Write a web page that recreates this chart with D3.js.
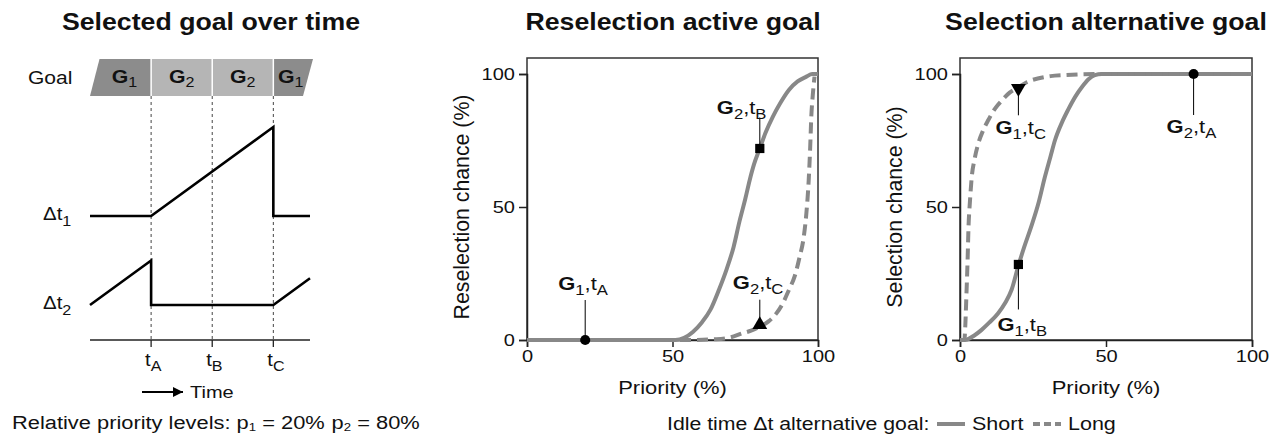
<!DOCTYPE html>
<html><head><meta charset="utf-8">
<script src="https://cdn.jsdelivr.net/npm/d3@7"></script>
<style>
body{margin:0;background:#fff;}
svg{display:block;font-family:"Liberation Sans",Arial,sans-serif;}
</style></head>
<body><svg id="c" width="1286" height="438"></svg>
<script>
// ---------- DATA ----------
const titles = ["Selected goal over time", "Reselection active goal", "Selection alternative goal"];
const timeTicks = [{t:1, sub:"A"}, {t:2, sub:"B"}, {t:3, sub:"C"}];
const goalSegments = [{g:1, from:0, to:1}, {g:2, from:1, to:2}, {g:2, from:2, to:3}, {g:1, from:3, to:3.6}];
const idle1 = [[0,0],[1,0],[3,2],[3,0],[3.6,0]];
const idle2 = [[0,0],[1,1],[1,0],[3,0],[3.6,0.6]];
const priorityTicks = [0, 50, 100];
const chanceTicks = [0, 50, 100];
// Reselection active goal (priority %, chance %)
const reselShort = [[0,0],[51,0],[54,0.8],[57,3],[60,6.5],[63,11.3],[66,19],[68.5,26.3],[71,35],[73,44.5],[75,53],[76.5,60],[78,66],[80,72],[82,78],[84.5,84],[87,89],[90,94],[93,97.2],[96,99],[98,100],[100,100]];
const reselLong = [[0,0],[55,0],[65,0.3],[70,1],[74,2.5],[77,3.5],[80,5],[83,7],[85.7,10],[88,14],[90,18.8],[92,24],[93.7,31.3],[95,38],[96,47.6],[96.8,60],[97.3,72],[97.7,84],[98.2,92],[98.8,99]];
// Selection alternative goal
const selShort = [[0,0],[2,0.1],[5,1.8],[7.4,3.8],[10,6.5],[13,10],[15.5,14],[17.7,19],[20,28],[22,35],[24.5,43],[27,52],[29,61],[31,69],[32.5,75],[35,82],[37,86.5],[39.5,91.5],[41.7,95],[44,98],[46.2,99.6],[48.5,100],[100,100]];
const selLong = [[0,0],[1.5,0],[1.8,5],[2.2,17],[2.6,30],[2.9,42],[3.4,52],[4,61],[5,68],[6.3,74],[8,79],[9.7,82.7],[12,87],[14.3,90],[17,93],[20,95],[23,97],[27,98.4],[31,99.2],[36,99.6],[42,99.9],[47,100],[100,100]];
// Annotated points
const reselPoints = [{key:"G1tA", p:20, v:0, sym:"circle", g:"1", t:"A"}, {key:"G2tB", p:80, v:72, sym:"square", g:"2", t:"B"}, {key:"G2tC", p:80, v:5, sym:"triangle", g:"2", t:"C"}];
const selPoints = [{key:"G1tC", p:20, v:95, sym:"triangleDown", g:"1", t:"C"}, {key:"G2tA", p:80, v:100, sym:"circle", g:"2", t:"A"}, {key:"G1tB", p:20, v:28.4, sym:"square", g:"1", t:"B"}];
const legendItems = [{label:"Short", dash:null}, {label:"Long", dash:"7,4"}];

// ---------- LAYOUT (pixel offsets of annotation labels relative to their marker) ----------
const labelLayout = {
  resel: {G1tA:{dx:-27, dy:-50, lead:-40}, G2tB:{dx:-43, dy:-34, lead:-31}, G2tC:{dx:-27, dy:-38, lead:-27}},
  sel:   {G1tC:{dx:-23, dy:47, lead:28}, G2tA:{dx:-27, dy:59, lead:41}, G1tB:{dx:-21, dy:67, lead:45}}
};

// ---------- DRAW ----------
const svg = d3.select("#c");
const FONT = "Liberation Sans, Arial, sans-serif";
const SX = 1.15;           // horizontal text stretch seen in the reference
const curveGray = "#888888";

function T(parent, x, y, size, anchor, weight) {
  const g = parent.append("g").attr("transform", `translate(${x},${y}) scale(${SX},1)`);
  const t = g.append("text").attr("font-size", size).attr("text-anchor", anchor || "start").attr("fill", "#111");
  if (weight) t.attr("font-weight", weight);
  return t;
}

// Titles
const titleX = [211, 673, 1106];
titles.forEach((t,i)=> T(svg, titleX[i], 30, 23.2, "middle", "bold").text(t));

// ---- Left panel ----
const tx = d3.scaleLinear().domain([0,3.6]).range([90,310]);
const slope = 44.5;
const y1 = v => 216 - v*slope;
const y2 = v => 305 - v*slope;

// goal bar
const barTop = 59, barBot = 96, skew = 9.5;
const colorGoal = g => g===1 ? "#8c8c8c" : "#b5b5b5";
goalSegments.forEach((s,i)=>{
  const x0 = tx(s.from), x1 = tx(s.to);
  const first = i===0, last = i===goalSegments.length-1;
  const pts = [
    [first ? x0+skew : x0, barTop],
    [last ? x1+3 : x1, barTop],
    [last ? x1-7 : x1, barBot],
    [x0, barBot]
  ];
  svg.append("path").attr("d", d3.line()(pts)+"Z").attr("fill", colorGoal(s.g));
  const cx = first ? (x0+x1)/2+4 : (last ? (x0+x1)/2-1 : (x0+x1)/2);
  const tt = T(svg, cx, 83, 18.5, "middle");
  tt.append("tspan").attr("font-weight","bold").text("G");
  tt.append("tspan").attr("font-size",14).attr("dy",4).text(s.g);
});
goalSegments.slice(1).forEach(s=>{
  svg.append("line").attr("x1",tx(s.from)).attr("x2",tx(s.from)).attr("y1",barTop).attr("y2",barBot)
    .attr("stroke","#fff").attr("stroke-width",1.5);
});
T(svg, 28, 84, 18.3).text("Goal");

// dotted verticals
timeTicks.forEach(d=>{
  svg.append("line").attr("x1",tx(d.t)).attr("x2",tx(d.t)).attr("y1",barBot).attr("y2",340)
    .attr("stroke","#444").attr("stroke-width",1).attr("stroke-dasharray","3,3");
});
// time axis
svg.append("line").attr("x1",tx(0)).attr("x2",tx(3.6)).attr("y1",340).attr("y2",340).attr("stroke","#222").attr("stroke-width",1.3);
timeTicks.forEach(d=>{
  svg.append("line").attr("x1",tx(d.t)).attr("x2",tx(d.t)).attr("y1",340).attr("y2",347).attr("stroke","#222").attr("stroke-width",1.3);
  const tt = T(svg, tx(d.t)-6, 366, 17.5);
  tt.append("tspan").text("t");
  tt.append("tspan").attr("font-size",14).attr("dy",5).text(d.sub);
});
// idle time lines
const lx = d3.line().x(d=>tx(d[0]));
svg.append("path").attr("d", lx.y(d=>y1(d[1]))(idle1)).attr("fill","none").attr("stroke","#000").attr("stroke-width",2.6);
svg.append("path").attr("d", lx.y(d=>y2(d[1]))(idle2)).attr("fill","none").attr("stroke","#000").attr("stroke-width",2.6);
[[y1(0),"1"],[y2(0),"2"]].forEach(([yy,s])=>{
  const tt = T(svg, 43, yy+4, 17.8);
  tt.append("tspan").text("\u0394t");
  tt.append("tspan").attr("font-size",14).attr("dy",6).text(s);
});
// Time arrow
svg.append("defs").append("marker").attr("id","ah").attr("viewBox","0 0 10 10").attr("refX",10).attr("refY",5)
  .attr("markerWidth",5).attr("markerHeight",5).attr("markerUnits","strokeWidth").attr("orient","auto")
  .append("path").attr("d","M0,0L10,5L0,10Z").attr("fill","#000");
svg.append("line").attr("x1",142).attr("x2",183).attr("y1",392).attr("y2",392).attr("stroke","#000").attr("stroke-width",2).attr("marker-end","url(#ah)");
T(svg, 190, 398, 17.4).text("Time");
// relative priority
{
  const tt = T(svg, 12, 429, 19);
  tt.append("tspan").text("Relative priority levels: p");
  tt.append("tspan").attr("font-size",11.5).attr("dy",2).text("1");
  tt.append("tspan").attr("dy",-2).text(" = 20%");
  tt.append("tspan").attr("dx",6).text("p");
  tt.append("tspan").attr("font-size",11.5).attr("dy",2).text("2");
  tt.append("tspan").attr("dy",-2).text(" = 80%");
}

// ---- Right panels ----
function panel(x0, x1, yLabel, lines, points, layout) {
  const x = d3.scaleLinear().domain([0,100]).range([x0,x1]);
  const y = d3.scaleLinear().domain([0,100]).range([340,74]);
  const g = svg.append("g");
  g.append("rect").attr("x",x0).attr("y",58).attr("width",x1-x0).attr("height",340-58).attr("fill","none").attr("stroke","#333").attr("stroke-width",1.5);
  const ax = g.append("g").attr("transform",`translate(0,340)`).call(d3.axisBottom(x).tickValues(priorityTicks).tickSize(7).tickPadding(3));
  const ay = g.append("g").attr("transform",`translate(${x0},0)`).call(d3.axisLeft(y).tickValues(chanceTicks).tickSize(8).tickPadding(3));
  [ax,ay].forEach(a=>{
    a.select(".domain").attr("stroke","#222").attr("stroke-width",1.5);
    a.selectAll(".tick line").attr("stroke","#222").attr("stroke-width",1.5);
    a.selectAll("text").attr("font-size",17.4).attr("font-family",FONT).attr("fill","#111");
  });
  ax.selectAll(".tick text").attr("transform",`scale(${SX},1)`);
  ay.selectAll(".tick text").attr("x",0).attr("transform",`translate(-12,0) scale(${SX},1)`);
  T(g, (x0+x1)/2, 394, 19.1, "middle").text("Priority (%)");
  g.append("text").attr("transform",`translate(${x0-58},207) rotate(-90)`).attr("text-anchor","middle").attr("font-size",21.3).attr("fill","#111").text(yLabel);
  const line = d3.line().x(d=>x(d[0])).y(d=>y(d[1])).curve(d3.curveMonotoneX);
  lines.forEach(l=>{
    g.append("path").attr("d", line(l.data)).attr("fill","none").attr("stroke",curveGray).attr("stroke-width",4)
      .attr("stroke-dasharray", l.dash).attr("stroke-linecap","butt");
  });
  points.forEach(pt=>{
    const L = layout[pt.key];
    const px = x(pt.p), py = y(pt.v);
    g.append("line").attr("x1",px).attr("x2",px).attr("y1",py).attr("y2",py+L.lead).attr("stroke","#000").attr("stroke-width",1);
    let sym = d3.symbolCircle, rot = 0, size = 80, yoff = 0;
    if (pt.sym==="square") { sym = d3.symbolSquare; size = 85; }
    else if (pt.sym==="triangle") { sym = d3.symbolTriangle; size = 95; yoff = -2; }
    else if (pt.sym==="triangleDown") { sym = d3.symbolTriangle; rot = 180; size = 95; yoff = 1; }
    g.append("path").attr("d", d3.symbol().type(sym).size(size)()).attr("fill","#000")
      .attr("transform",`translate(${px},${py+yoff}) rotate(${rot})`);
    const tt = T(g, px+L.dx, py+L.dy, 19.1);
    tt.append("tspan").attr("font-weight","bold").text("G");
    tt.append("tspan").attr("font-size",14.5).attr("dy",5).text(pt.g);
    tt.append("tspan").attr("dy",-5).text(",t");
    tt.append("tspan").attr("font-size",14.5).attr("dy",5).text(pt.t);
  });
}
panel(527, 818, "Reselection chance (%)", [{data:reselShort, dash:null},{data:reselLong, dash:"11,6"}], reselPoints, labelLayout.resel);
panel(960, 1252, "Selection chance (%)", [{data:selShort, dash:null},{data:selLong, dash:"11,6"}], selPoints, labelLayout.sel);

// legend
{
  T(svg, 667, 430, 18.5).text("Idle time \u0394t alternative goal:");
  const xs = [937, 1033];
  legendItems.forEach((it,i)=>{
    svg.append("line").attr("x1",xs[i]).attr("x2",xs[i]+28).attr("y1",424).attr("y2",424).attr("stroke",curveGray).attr("stroke-width",4).attr("stroke-dasharray",it.dash);
    T(svg, xs[i]+35, 430, 18.7).text(it.label);
  });
}
</script></body></html>
